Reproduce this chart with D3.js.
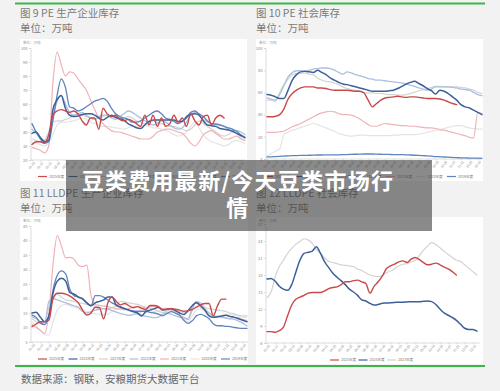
<!DOCTYPE html>
<html><head><meta charset="utf-8">
<script src="https://cdn.jsdelivr.net/npm/d3@7"></script>
<style>
html,body{margin:0;padding:0;background:#f2f2f2;}
svg{display:block;}
</style></head>
<body>
<svg id="c" width="500" height="391"></svg>
<script>
// ---------- data ----------
const yearNames = ["2025年度","2024年度","2023年度","2022年度","2021年度","2020年度","2019年度"];
const yearNames3 = ["2025年度","2024年度","2023年度"];
const weekLabels = ["01-03","01-17","01-31","02-14","02-28","03-14","03-28","04-11","04-25","05-09","05-23","06-06","06-20","07-04","07-18","08-01","08-15","08-29","09-12","09-26","10-10","10-24","11-07","11-21","12-05","12-19"];
const titles = ["图 9 PE 生产企业库存","图 10 PE 社会库存","图 11 LLDPE 生产企业库存","图 12 LLDPE 社会库存"];
const unitText = "单位：万吨";
const sourceText = "数据来源：钢联，安粮期货大数据平台";
const bannerLines = ["豆类费用最新/今天豆类市场行","情"];

// Fig 9 PE producer inventory
const p1_2025 = [31,33,33,32,38,52,55,56,55,54,55,53,48,45,50,50,42,57,53,51,52,49,48,49,48,46,44,52,45,52,44,50,44,46,52,47,50,44,53,48,45,51,52,45,50,52,50];
const p1_2024 = [39,40,36,33,34,56,63,66,57,52,51,51.5,52.5,53,53,52,50,48.5,50.5,52,50.5,49.5,48.5,46,44.5,43,42.5,45,47.5,48.5,48.5,48.5,48.5,48.5,48.5,47.5,47.5,51,52.5,53,52,48,45,44.5,44,42.5,42,41.5,40.5,39,37.5,36];
const p1_2023 = [35,34,33,34,40,47,48,48,49,50,52,53,52,51,50,49,50,51,52,51,50,49,50,51,50,48,47,46,47,48,47,46,45,44,44,43,42,41,42,45,48,46,44,42,40,38,37,38,40,39,36,34];
const p1_2022 = [42,39,36,34,35,50,62,66,60,54,52,53,54,52,50,49,51,52,52,50,49,51,53,55,54,52,50,48,46,45,46,48,47,45,43,42,43,47,52,54,52,49,47,46,46,45,44,42,41,41,40,38];
const p1_2021 = [29,28,27,25,30,75,97,88,80,83,82,78,74,70,63,56,50,46,43,41,40,40,39,38,37,36,35,35,35,37,40,41,42,42,41,40,39,36,32,30,33,38,40,41,39,37,35,35,36,37,35,34];
const p1_2020 = [33,32,31,30,32,38,45,47,47,47.5,48,49,50,49,47,46,45,44,44,43.5,43,42.5,42,43,44,44,44.5,45,44,43,43,42,41,40,38,37,38,40,44,47,43,38,35,33,32,31,30,31,33,34,33,32];
const p1_2019 = [46,40,35,32,33,48,66,78,72,58,57,55,56,58,60,62,63,64,62,57,53,51,50,49,47,47,48,50,52,54,55,53,50,49,47.5,46,48,50,54,55,53,51,48,46,45.5,45,44,43,42,40.5,38,36];

// Fig 10 PE social inventory
const p2_2025 = [38,38,38.5,40,45,54,59,62,64,65,65,65,64,64,63.5,62.5,62,62,62,62,61.5,61,61,59.5,53,47,50,53,55,55.5,56,56.5,56,55.5,56,56,55.5,55,54.5,54.5,54.5,54,53,51.5,50,49];
const p2_2024 = [58,57.5,56,54.5,54.5,62,71,76,78.5,79,78.5,78,80,78,76,73,71,69,67.5,67,66,65,64,63,62,61,61,61,61,61.5,62,63.5,65.5,67.5,69,70,68,66,63.5,61.5,58.5,62,61,59,56,53,49,47,46,44,42,40];
const p2_2023 = [53,53,52,60,67,72,76,77,77,77.5,76.5,76,73,71,70,69.5,68.5,67,65,63.5,62.5,62,61,60,59.5,59.5,59,59,58.5,58,58,57.5,57.5,58,59,60,61.5,62.5,63.5,64.5,65.5,65.5,65,65,65,65,64.5,64,63,62,60,59];
const p2_2022 = [55,54,53,58,66,74,78,79.5,79.5,79,80,81,81.5,82,82,81.5,80,78,76.5,78.5,77.5,76,75,74,72.5,72,71,71,70.5,70,69.5,69,68.5,67.5,66.5,65.5,64,63,62,63,65,65,65,65,64.5,64,63,62.5,62,60,58,57];
const p2_2021 = [24,24,24,24.5,25,27,29,30.5,32,34,36,38,40,41.5,42.5,43,42.5,41,40,40,39.5,38,36,33.5,31,29.5,29.5,31,32,31.5,31,30.5,30,30,29.5,29.5,29,28.5,28,28,27.5,26.5,26,25,24,23,22,21,19.5,19,42,41];
const p2_2020 = [2,5,7,9,22,24,26,27,28.5,29.5,31,32,31,29.5,28,26.5,25,23,22,21,20.5,21,21.5,21.5,21,21,21,21,21,21,21.5,21.5,22,22,22,22,22.5,23,24,25,26,26.5,27.5,28.5,29.5,30,30,29,28,27.5,27,27];
const p2_2019 = [2,2,2.2,2.4,2.6,2.8,3,3.1,3.2,3.3,3.4,3.5,3.6,3.6,3.7,3.7,3.8,3.8,3.9,4,4.2,4.3,4.4,4.5,4.5,4.5,4.4,4.3,4.2,4.1,4,4,3.9,3.8,3.6,3.4,3.2,3,2.8,2.5,2.2,2,1.8,1.6,1.4,1.2,1,1,0.8,0.8,0.7,0.6];

// Fig 11 LLDPE producer inventory
const p3_2025 = [10.3,11.2,12,12,12.5,20,21.8,21.8,21.5,20.8,19.8,18.5,16,14.3,15,17,16.8,13,18.5,20.5,19,17.8,18.3,17.5,16.8,17.2,16.6,16.2,17.6,17.6,17.2,16.2,16.2,16.6,16.3,16,15.6,15.8,16.2,17,17.8,18.3,18.3,14,17.5,19.8,19.8];
const p3_2024 = [15,15.3,13.5,12,14,22,26,27,26,22,21.5,20.5,19.8,18.5,17.5,18.5,19,19.5,20.5,20.5,17.6,17,16.5,16,15.5,15,14,15.5,16,16.5,17,16,16.3,16.5,15.8,15,14.5,15.8,17.5,18.5,17.5,16,14,13.5,13.7,14,14.2,13.8,13.5,13,12.5,12];
const p3_2023 = [13,12,11.5,12,17,20,21.5,20.5,19.5,19.3,19,18.5,18.3,18,17.8,17.5,17,16.5,16.5,16.8,17.5,19,18.8,18.5,18.2,18,17.5,17,16.6,16.2,15.6,15.2,15.6,16.2,16,15.5,15.2,15.4,17.5,19,18.5,17,16.5,16.3,16,15.8,15.5,15,14.7,14.2,14,14];
const p3_2022 = [13.7,13,12,11,19,20,19.5,19,18.5,18,17.5,17,15.5,15,15.5,16,16.3,16.5,16.3,15.8,15.3,14.8,14.5,14.2,14.5,14.8,14.3,13.8,13.6,13.4,13.6,14.6,15,14.6,14,13.6,13.3,12.8,16,19,18,16.5,15,14,13.8,13.5,13.2,13,12.8,12.2,11.5,10.5];
const p3_2021 = [11,10,9,8,15,32,41.7,38,34,34.2,33.5,31.5,31,31.5,21,18,17.6,17.4,17.2,16.8,16.5,16.4,16.2,16.5,17,17.3,17,16.8,17.2,17.3,16.8,16.4,16.6,16,15,14.3,13.5,13,17,18.5,17,16,15,14,13.6,13.8,13.3,13,13.5,13.3,12.8,12.5];
const p3_2020 = [12,10.5,9,7.5,7.4,12,16,17.5,18,17.5,17,16.5,16,15.5,15,14.7,14.5,14.3,14.6,15.5,16.5,16.2,16,15.8,15.3,15,15.4,15.8,15.8,15.5,15.8,16.2,16.4,16.3,15.6,14.5,13,12,14,16,16.5,15.5,14.3,13.6,13.5,14,14.5,14.5,14.2,14,13.6,13.5];
const p3_2019 = [14.3,13.5,11.5,11,14,23,28,29.5,28.5,23,21,20.5,20,18.5,17.5,21,21,20.5,19.5,18.5,17.8,17.2,16.5,16,15.6,15.6,15.6,15.6,15.2,15,14.6,14,14.8,15.5,15,14.2,12.5,11.4,12.3,14,14.5,14,13,11.3,10.6,10.6,10.4,10.3,10,9.8,9.7,9.7];

// Fig 12 LLDPE social inventory
const p4_2025 = [8,8,7.9,8.2,8.8,10.8,12.7,13.7,14.1,14.4,14.8,14.9,14.9,14.9,15.2,15.6,15.8,15.9,16.3,16.8,16.8,17,17.1,16.8,16.5,14.8,16,16.8,17.8,19.1,19.6,19.9,20.3,20.5,20.2,20.8,21.1,20.7,20.2,19.8,19.9,20.1,19.8,19.4,19.1,18.6,18];
const p4_2024 = [17.3,17.4,16.9,16,15.5,15.3,16.3,18.5,20.6,21.8,22,22.2,23,21.8,20.3,19.3,18.3,17.6,17,16.3,15.5,15,14.4,13.6,13.4,13,12.7,12.8,13,13.05,13.1,13.15,13.2,13.2,13.25,13.3,13.3,13.3,13.35,13.4,13.3,12.8,12,11.3,10.9,10.5,10,9.3,8.6,8.4,8.4,8.1];
const p4_2023 = [14,15,17.7,19.5,20.6,21.8,22.7,23.4,23.9,24.4,24.2,23.6,22.5,21.8,21,20.4,20.2,20,19.8,19.7,19.6,19.5,19,18.8,18.4,18,17.8,17.7,17.9,18.4,18.7,19.1,19.6,19.9,20,20.3,20.6,21.4,22.4,23.1,23.7,23.4,22.8,22.2,21.6,21.1,20.6,20.4,19.8,19.2,18.6,18];

// ---------- styles ----------
const yearColors = {"2025年度":"#c94a4a","2024年度":"#3d6098","2023年度":"#d3d3d3","2022年度":"#abc0df","2021年度":"#f0b2b8","2020年度":"#e4e4e4","2019年度":"#6184be"};
const yearWidths = {"2025年度":1.4,"2024年度":1.5,"2023年度":1.2,"2022年度":1.3,"2021年度":1.2,"2020年度":1.2,"2019年度":1.3};
const drawOrder = ["2020年度","2023年度","2021年度","2022年度","2019年度","2024年度","2025年度"];

const svg = d3.select("#c");
const FONT = "'Noto Sans CJK SC','Noto Sans',sans-serif";
const defs = svg.append("defs");
defs.append("filter").attr("id","soft").attr("x","-5%").attr("y","-5%").attr("width","110%").attr("height","110%")
  .append("feGaussianBlur").attr("stdDeviation",0.35);

// green rules
svg.append("line").attr("x1",15).attr("x2",485).attr("y1",3.5).attr("y2",3.5).attr("stroke","#3db54a").attr("stroke-width",2);
svg.append("line").attr("x1",15).attr("x2",485).attr("y1",366).attr("y2",366).attr("stroke","#3db54a").attr("stroke-width",2);

function drawPanel(cfg){
  const g = svg.append("g");
  g.append("rect").attr("x",cfg.box[0]).attr("y",cfg.box[1]).attr("width",cfg.box[2]).attr("height",cfg.box[3]).attr("fill","#ffffff");
  g.append("text").attr("x",cfg.box[0]).attr("y",cfg.titleY).text(cfg.title)
    .attr("font-family",FONT).attr("font-size",10.5).attr("fill","#7a7a7a");
  g.append("text").attr("x",cfg.box[0]).attr("y",cfg.titleY+15).text(unitText)
    .attr("font-family",FONT).attr("font-size",10.5).attr("fill","#7a7a7a");
  g.append("text").attr("x",cfg.box[0]+3).attr("y",cfg.box[1]+4.5).text(unitText)
    .attr("font-family",FONT).attr("font-size",3.5).attr("fill","#999");

  const x = d3.scaleLinear().domain([0,51]).range(cfg.xr);
  const y = d3.scaleLinear().domain(cfg.yd).range(cfg.yr);

  const ya = g.append("g").attr("transform",`translate(${cfg.xr[0]-1.5},0)`)
    .call(d3.axisLeft(y).tickValues(cfg.yt).tickSize(1.5).tickPadding(1.5));
  ya.selectAll("text").attr("font-size",4).attr("fill","#888").attr("font-family",FONT);
  ya.selectAll("line,path").attr("stroke","#c8c8c8").attr("stroke-width",0.6);

  const xa = g.append("g").attr("transform",`translate(0,${cfg.yr[0]})`)
    .call(d3.axisBottom(x).tickValues(d3.range(0,52,2)).tickFormat((d,i)=>weekLabels[i]).tickSize(1.5).tickPadding(0.5));
  xa.select("path").attr("d",`M${cfg.xr[0]-1.5},0H${cfg.xEnd}`);
  xa.selectAll("line,path").attr("stroke","#c8c8c8").attr("stroke-width",0.6);
  xa.selectAll("text").attr("font-size",3.2).attr("fill","#888").attr("font-family",FONT)
    .attr("text-anchor","end").attr("dx","-0.5").attr("dy","2.2").attr("transform","rotate(-50)");

  const line = d3.line().x((d,i)=>x(i)).y(d=>y(d)).curve(d3.curveMonotoneX);
  const lg = g.append("g").attr("filter","url(#soft)");
  drawOrder.filter(n=>cfg.series[n]).forEach(n=>{
    lg.append("path").datum(cfg.series[n]).attr("d",line).attr("fill","none")
      .attr("stroke",yearColors[n]).attr("stroke-width",yearWidths[n])
      .attr("stroke-linejoin","round").attr("stroke-linecap","round");
  });

  cfg.legendNames.forEach((n,i)=>{
    const lx = cfg.legend[0] + i*cfg.legend[2];
    const ly = cfg.legend[1];
    g.append("line").attr("x1",lx).attr("x2",lx+9).attr("y1",ly).attr("y2",ly)
      .attr("stroke",yearColors[n]).attr("stroke-width",1.2);
    g.append("text").attr("x",lx+11).attr("y",ly+1.3).text(n)
      .attr("font-family",FONT).attr("font-size",3.6).attr("fill","#777");
  });
}

drawPanel({title:titles[0],box:[20,39,227,142],titleY:17,xr:[32,245],xEnd:246,yd:[20,100],yr:[160,48],yt:d3.range(20,101,10),
  series:{"2025年度":p1_2025,"2024年度":p1_2024,"2023年度":p1_2023,"2022年度":p1_2022,"2021年度":p1_2021,"2020年度":p1_2020,"2019年度":p1_2019},
  legendNames:yearNames,legend:[38,176.5,30.5]});
drawPanel({title:titles[1],box:[256,39,227,142],titleY:17,xr:[267,482],xEnd:482,yd:[0,100],yr:[159,48],yt:d3.range(0,101,20),
  series:{"2025年度":p2_2025,"2024年度":p2_2024,"2023年度":p2_2023,"2022年度":p2_2022,"2021年度":p2_2021,"2020年度":p2_2020,"2019年度":p2_2019},
  legendNames:yearNames,legend:[264,176.5,30.5]});
drawPanel({title:titles[2],box:[20,217,228,147],titleY:197,xr:[32,247],xEnd:248,yd:[5,45],yr:[342,226],yt:d3.range(5,46,5),
  series:{"2025年度":p3_2025,"2024年度":p3_2024,"2023年度":p3_2023,"2022年度":p3_2022,"2021年度":p3_2021,"2020年度":p3_2020,"2019年度":p3_2019},
  legendNames:yearNames,legend:[38,359,30.5]});
drawPanel({title:titles[3],box:[256,217,227,147],titleY:197,xr:[267,477],xEnd:480,yd:[6,27],yr:[343,224],yt:d3.range(6,28,3),
  series:{"2025年度":p4_2025,"2024年度":p4_2024,"2023年度":p4_2023},
  legendNames:yearNames3,legend:[330,360,28.5]});

svg.append("text").attr("x",21).attr("y",383).text(sourceText)
  .attr("font-family",FONT).attr("font-size",10.5).attr("fill","#666");

svg.append("rect").attr("x",66).attr("y",160).attr("width",366).attr("height",71).attr("fill","rgba(60,60,60,0.6)");
bannerLines.forEach((t,i)=>{
  svg.append("text").attr("x",238).attr("y",189+i*27).attr("text-anchor","middle").text(t)
    .attr("font-family",FONT).attr("font-weight","bold").attr("font-size",22)
    .attr("letter-spacing","1.3px").attr("fill","#ffffff");
});
</script>
</body></html>
